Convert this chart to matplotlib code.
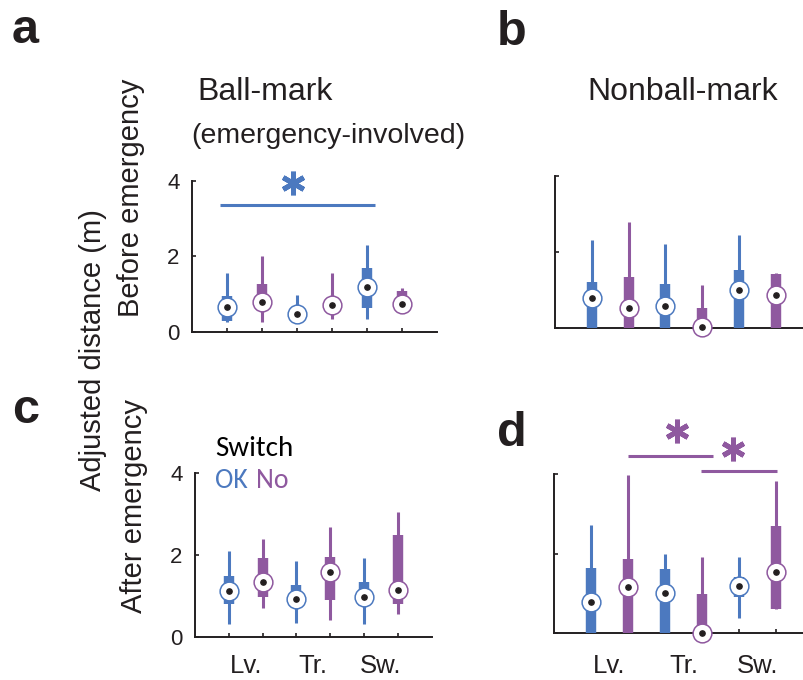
import numpy as np
import matplotlib
matplotlib.use("Agg")
import matplotlib.pyplot as plt

plt.rcParams['font.family'] = ['Liberation Sans', 'DejaVu Sans']

# colours
BLUE = "#4c79bf"
PURPLE = "#8f599f"
INK = "#231f20"

# six groups per panel: Lv. OK/No, Tr. OK/No, Sw. OK/No
positions = [1, 2, 3, 4, 5, 6]
group_colors = [BLUE, PURPLE, BLUE, PURPLE, BLUE, PURPLE]
group_labels = ["Lv.", "Tr.", "Sw."]

# panel a: ball-mark, before emergency
a_wlo = [0.26, 0.26, 0.30, 0.34, 0.34, 0.55]
a_q1 = [0.29, 0.62, 0.35, 0.55, 0.63, 0.62]
a_med = [0.66, 0.80, 0.48, 0.71, 1.19, 0.74]
a_q3 = [0.95, 1.27, 0.62, 0.85, 1.69, 1.08]
a_whi = [1.56, 2.00, 0.98, 1.56, 2.30, 1.16]

# panel b: nonball-mark, before emergency
b_wlo = [0, 0, 0, 0, 0, 0]
b_q1 = [0, 0, 0, 0, 0, 0]
b_med = [0.79, 0.53, 0.58, 0.03, 1.00, 0.87]
b_q3 = [1.21, 1.34, 1.16, 0.53, 1.53, 1.42]
b_whi = [2.32, 2.79, 2.21, 1.13, 2.45, 1.45]

# panel c: ball-mark, after emergency
c_wlo = [0.32, 0.71, 0.34, 0.41, 0.32, 0.56]
c_q1 = [0.80, 0.98, 0.75, 0.90, 0.75, 0.80]
c_med = [1.12, 1.34, 0.93, 1.59, 0.98, 1.15]
c_q3 = [1.49, 1.93, 1.27, 1.95, 1.34, 2.49]
c_whi = [2.10, 2.39, 1.85, 2.68, 1.93, 3.05]

# panel d: nonball-mark, after emergency
d_wlo = [0, 0, 0, 0, 0.38, 0.61]
d_q1 = [0, 0, 0, 0, 0.91, 0.61]
d_med = [0.79, 1.16, 1.00, 0.00, 1.19, 1.54]
d_q3 = [1.64, 1.85, 1.60, 0.99, 1.40, 2.68]
d_whi = [2.71, 3.97, 2.00, 1.92, 1.92, 3.82]

# significance bars: (x0, x1, y), stars: (x, y)
a_bars = [(0.8, 5.23, 3.36)]
a_stars = [(2.89, 3.95)]
d_bars = [(2.0, 4.3, 4.46), (3.97, 6.03, 4.08)]
d_stars = [(3.32, 5.09), (4.84, 4.63)]


def draw_panel(ax, wlo, q1, med, q3, whi, ticklabels=True, xlabels=False, xpad=13):
    ax.vlines(positions, wlo, whi, colors=group_colors, linewidth=2.2, capstyle='butt', zorder=2)
    ax.vlines(positions, q1, q3, colors=group_colors, linewidth=7.5, capstyle='butt', zorder=3)
    for x, m, col in zip(positions, med, group_colors):
        ax.plot(x, m, 'o', ms=13.5, mfc='white', mec=col, mew=1.1, zorder=4, clip_on=False)
        ax.plot(x, m, 'o', ms=3.8, color=INK, zorder=5, clip_on=False)

    ax.set_xlim(0, 7)
    ax.set_ylim(0, 4)
    for s in ['top', 'right']:
        ax.spines[s].set_visible(False)
    for s in ['left', 'bottom']:
        ax.spines[s].set_linewidth(1.4)
        ax.spines[s].set_color(INK)
    ax.set_yticks([0, 2, 4])
    ax.set_xticks(positions)
    ax.set_xticklabels([])
    ax.tick_params(axis='both', direction='in', length=3, width=1.2, color=INK)
    ax.tick_params(axis='y', labelsize=16, pad=9, labelcolor=INK)
    if not ticklabels:
        ax.set_yticklabels([])
    if xlabels:
        ax.set_xticks([1.5, 3.5, 5.5], minor=True)
        ax.set_xticklabels(group_labels, minor=True)
        ax.tick_params(axis='x', which='minor', length=0, labelsize=18.5, pad=xpad, labelcolor=INK)


def draw_sig(ax, bars, stars, col):
    for x0, x1, y in bars:
        ax.plot([x0, x1], [y, y], color=col, lw=2.2, clip_on=False, solid_capstyle='butt')
    for x, y in stars:
        ax.plot(x, y, marker=(6, 2, 0), ms=17, mew=3.6, color=col, clip_on=False)


fig = plt.figure(figsize=(8.04, 6.80), dpi=100)

ax_a = fig.add_axes([0.2388, 0.5118, 0.3047, 0.2221])
ax_b = fig.add_axes([0.6903, 0.5176, 0.3204, 0.2235])
ax_c = fig.add_axes([0.2425, 0.0632, 0.2943, 0.2412])
ax_d = fig.add_axes([0.6891, 0.0691, 0.3221, 0.2338])

draw_panel(ax_a, a_wlo, a_q1, a_med, a_q3, a_whi)
draw_panel(ax_b, b_wlo, b_q1, b_med, b_q3, b_whi, ticklabels=False)
draw_panel(ax_c, c_wlo, c_q1, c_med, c_q3, c_whi, xlabels=True, xpad=12.5)
draw_panel(ax_d, d_wlo, d_q1, d_med, d_q3, d_whi, ticklabels=False, xlabels=True, xpad=15)

draw_sig(ax_a, a_bars, a_stars, BLUE)
draw_sig(ax_d, d_bars, d_stars, PURPLE)

# panel letters
H = 680.0
W = 804.0
for letter, x, y in [("a", 12, 43), ("b", 497, 45), ("c", 12, 423), ("d", 497, 446)]:
    fig.text(x / W, 1 - y / H, letter, fontsize=35, fontweight='bold', color=INK, va='baseline')

# titles
fig.text(197 / W, 1 - 100 / H, "Ball-mark", fontsize=23, color=INK, va='baseline')
fig.text(191 / W, 1 - 143 / H, "(emergency-involved)", fontsize=20.5, color=INK, va='baseline')
fig.text(587 / W, 1 - 100 / H, "Nonball-mark", fontsize=23, color=INK, va='baseline')

# y labels
fig.text(93 / W, 1 - 350 / H, "Adjusted distance (m)", fontsize=21, rotation=90, color=INK,
         ha='center', va='center')
fig.text(131 / W, 1 - 198 / H, "Before emergency", fontsize=21, rotation=90, color=INK,
         ha='center', va='center')
fig.text(134 / W, 1 - 506 / H, "After emergency", fontsize=21, rotation=90, color=INK,
         ha='center', va='center')

# switch legend
fig.text(215 / W, 1 - 448 / H, "Switch", fontsize=21, family=['Carlito', 'DejaVu Sans'],
         color='black', va='center')
fig.text(215 / W, 1 - 480 / H, "OK", fontsize=20, family=['Carlito', 'DejaVu Sans'],
         color=BLUE, va='center')
fig.text(256 / W, 1 - 480 / H, "No", fontsize=20, family=['Carlito', 'DejaVu Sans'],
         color=PURPLE, va='center')

fig.savefig("out.png", dpi=100)
